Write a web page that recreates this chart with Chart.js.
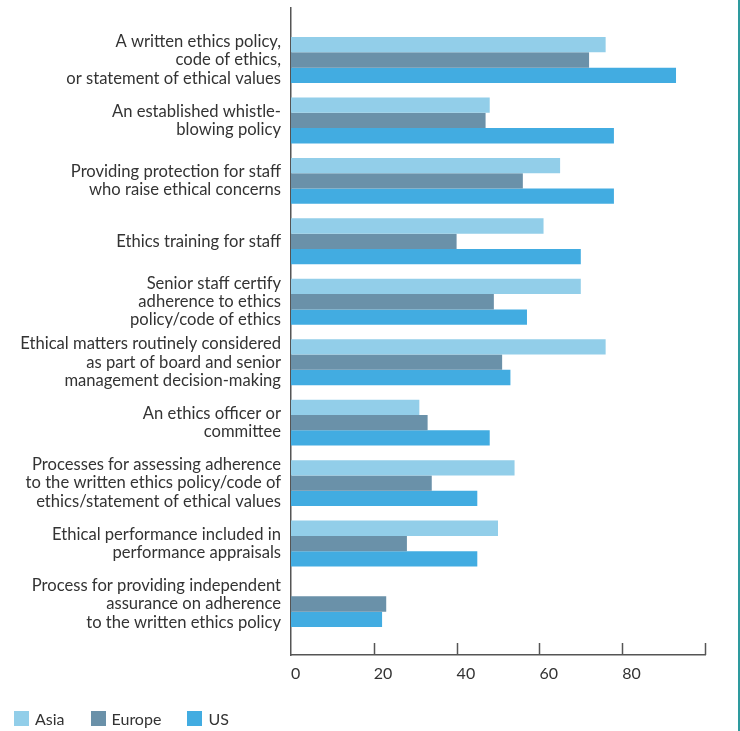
<!DOCTYPE html>
<html>
<head>
<meta charset="utf-8">
<script src="https://cdn.jsdelivr.net/npm/chart.js@4/dist/chart.umd.min.js"></script>
<style>
  body { margin: 0; background: #fff; }
  #wrap { position: relative; width: 738px; height: 731px; border-right: 2px solid #2e9a9e; }
  #legend { position: absolute; left: 14px; top: 709px; display: flex; font: 16px Lato, sans-serif; color: #333; }
  .item { display: flex; align-items: center; margin-right: 26px; }
  .box { width: 15px; height: 15px; margin-right: 6px; }
</style>
</head>
<body>
<div id="wrap">
  <canvas id="chart" width="738" height="731"></canvas>
  <div id="legend"></div>
</div>
<script>
// categories, one array of lines per label
const categories = [
  ['A written ethics policy,', 'code of ethics,', 'or statement of ethical values'],
  ['An established whistle-', 'blowing policy'],
  ['Providing protection for staff', 'who raise ethical concerns'],
  ['Ethics training for staff'],
  ['Senior staff certify', 'adherence to ethics', 'policy/code of ethics'],
  ['Ethical matters routinely considered', 'as part of board and senior', 'management decision-making'],
  ['An ethics officer or', 'committee'],
  ['Processes for assessing adherence', 'to the written ethics policy/code of', 'ethics/statement of ethical values'],
  ['Ethical performance included in', 'performance appraisals'],
  ['Process for providing independent', 'assurance on adherence', 'to the written ethics policy']
];

// percentages per region
const asia   = [76, 48, 65, 61, 70, 76, 31, 54, 50, null];
const europe = [72, 47, 56, 40, 49, 51, 33, 34, 28, 23];
const us     = [93, 78, 78, 70, 57, 53, 48, 45, 45, 22];

const xTicks = [0, 20, 40, 60, 80];
const xMax = 100;

const AXIS = '#555';
const TEXT = '#333';

function toPoints(values) {
  return values.map((v, i) => ({ x: v, y: i }));
}

// small inward tick marks on the bottom axis
const innerTicks = {
  id: 'innerTicks',
  afterDraw(chart) {
    const { ctx, chartArea, scales } = chart;
    const x = scales.x;
    ctx.save();
    ctx.strokeStyle = AXIS;
    ctx.lineWidth = 1.5;
    x.ticks.forEach(t => {
      if (t.value === 0) return;
      const px = Math.round(x.getPixelForValue(t.value)) + 0.5;
      ctx.beginPath();
      ctx.moveTo(px, chartArea.bottom);
      ctx.lineTo(px, chartArea.bottom - 12);
      ctx.stroke();
    });
    ctx.restore();
  }
};

const ctx = document.getElementById('chart').getContext('2d');
const chart = new Chart(ctx, {
  type: 'bar',
  data: {
    datasets: [
      { label: 'Asia', data: toPoints(asia), backgroundColor: '#92cee9' },
      { label: 'Europe', data: toPoints(europe), backgroundColor: '#6a91a9' },
      { label: 'US', data: toPoints(us), backgroundColor: '#42ace1' }
    ]
  },
  options: {
    indexAxis: 'y',
    responsive: false,
    animation: false,
    categoryPercentage: 0.76,
    barPercentage: 1,
    layout: { padding: { top: 8, right: 33, left: 0, bottom: 0 } },
    plugins: {
      legend: { display: false },
      tooltip: { enabled: false }
    },
    scales: {
      y: {
        type: 'linear',
        reverse: true,
        offset: false,
        min: -0.86,
        max: 9.844,
        grid: { display: false, drawTicks: false },
        border: { color: AXIS, width: 1.5 },
        afterFit: s => {
          s.width = 291;
          s.paddingTop = 0;
          s.paddingBottom = 0;
        },
        ticks: {
          stepSize: 1,
          autoSkip: false,
          includeBounds: false,
          padding: 10,
          color: TEXT,
          font: { family: 'Lato', size: 16.6, lineHeight: 1.1 },
          callback: v => Number.isInteger(v) ? categories[v] : ''
        }
      },
      x: {
        min: 0,
        max: xMax,
        grid: { display: false, drawTicks: false },
        border: { color: AXIS, width: 1.5 },
        afterFit: s => {
          s.height = 76;
          s.paddingLeft = 0;
          s.paddingRight = 0;
        },
        afterBuildTicks: s => { s.ticks = xTicks.concat([xMax]).map(v => ({ value: v })); },
        ticks: {
          align: 'start',
          padding: 9,
          color: TEXT,
          font: { family: 'Lato', size: 16 },
          callback: v => xTicks.includes(v) ? String(v) : ''
        }
      }
    }
  },
  plugins: [innerTicks]
});

// legend below the chart, built from the chart's own legend items
const legendEl = document.getElementById('legend');
Chart.defaults.plugins.legend.labels.generateLabels(chart).forEach(item => {
  const el = document.createElement('div');
  el.className = 'item';
  el.innerHTML = `<span class="box" style="background:${item.fillStyle}"></span><span>${item.text}</span>`;
  legendEl.appendChild(el);
});
</script>
</body>
</html>
